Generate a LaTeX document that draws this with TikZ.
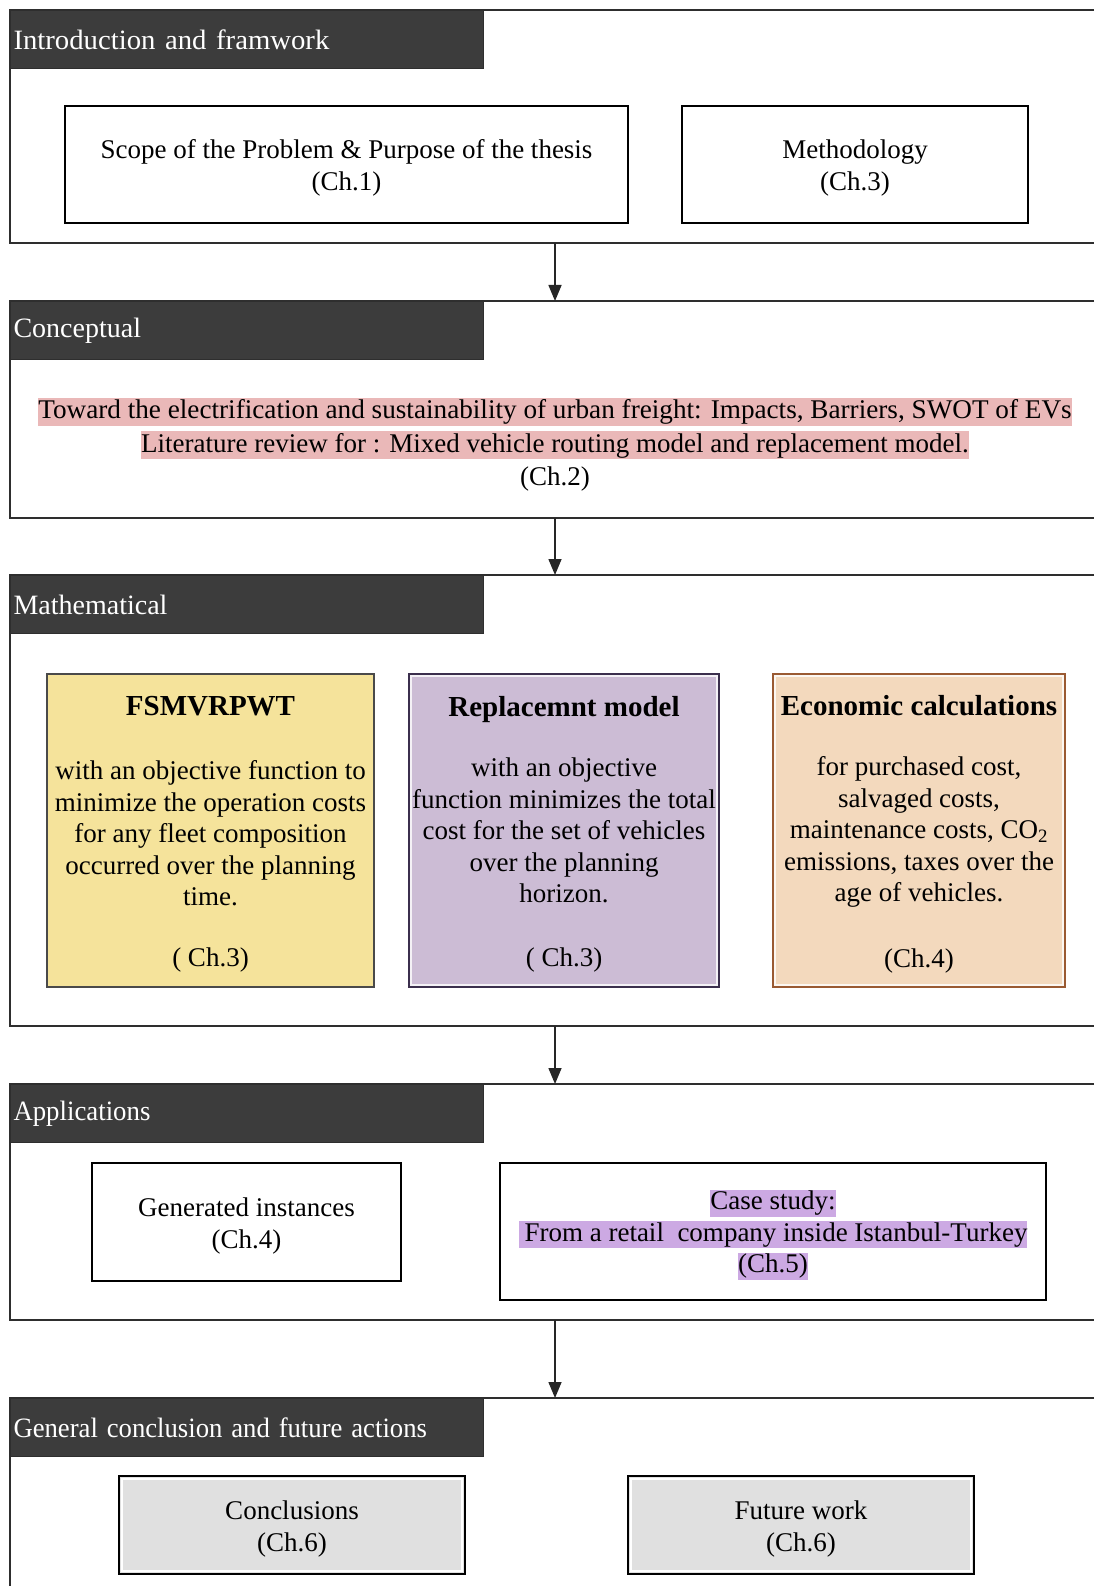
\documentclass[tikz,border=0pt]{standalone}
\usepackage{fontspec}
\setmainfont{Liberation Serif}
\usetikzlibrary{arrows.meta}
\definecolor{hdrc}{HTML}{3C3C3C}
\definecolor{framec}{HTML}{2E2E2E}
\definecolor{yelfill}{HTML}{F5E39B}
\definecolor{yelline}{HTML}{4A4A4A}
\definecolor{purfill}{HTML}{CCBCD5}
\definecolor{purline}{HTML}{3B2F4D}
\definecolor{peafill}{HTML}{F3D9BD}
\definecolor{pealine}{HTML}{9A5A32}
\definecolor{grayfill}{HTML}{E0E0E0}
\definecolor{pinkhl}{HTML}{EAB8B8}
\definecolor{purhl}{HTML}{CCA9E3}
\newcommand\hlpk[1]{{\setlength\fboxsep{0pt}\colorbox{pinkhl}{\rule[-7pt]{0pt}{28pt}#1}}}
\newcommand\hlpu[1]{{\setlength\fboxsep{0pt}\colorbox{purhl}{\rule[-7pt]{0pt}{27pt}#1}}}
\tikzset{
  frameline/.style={draw=framec, line width=1.6pt},
  hdr/.style={fill=hdrc, draw=framec, line width=1pt, text=white, anchor=north west,
    minimum width=473pt, minimum height=58pt, text width=467pt, align=left,
    inner xsep=3pt, inner ysep=0pt, font=\fontsize{28}{32}\selectfont},
  wbox/.style={draw=black, line width=1.6pt, inner sep=0pt},
  cbox/.style={line width=1.6pt, inner sep=0pt},
  gbox/.style={draw=black, fill=grayfill, line width=1.8pt, inner sep=0pt},
  btext/.style={inner sep=0pt, align=center, font=\fontsize{27}{32}\selectfont},
  ctext/.style={inner sep=0pt, align=center, font=\fontsize{27}{31.5}\selectfont},
  arr/.style={draw=black!85, line width=1.5pt, -{Triangle[length=16pt,width=13pt]}},
  inset/.style={draw=white, line width=1.5pt, opacity=0.8}
}
\newcommand\ttl[1]{{\bfseries\fontsize{29}{32}\selectfont #1}}
\begin{document}
\begin{tikzpicture}[x=1pt,y=-1pt]
\useasboundingbox (0,0) rectangle (1094,1586);
\fill[white] (0,0) rectangle (1094,1586);

% ---------- Section 1 ----------
\draw[frameline] (1094,10) -- (10,10) -- (10,243) -- (1094,243);
\node[hdr] (h1) at (10,10) {\scalebox{1.026}[1]{Introduction and framwork}};
\node[wbox, minimum width=563pt, minimum height=117pt] (scope) at (346.5,164.5) {};
\node[btext] (scopet) at ([yshift=-3.5pt]scope.center)
  {Scope of the Problem \& Purpose of the thesis\\(Ch.1)};
\node[wbox, minimum width=346pt, minimum height=117pt] (meth) at (855,164.5) {};
\node[btext] (metht) at ([yshift=-3.5pt]meth.center) {Methodology\\(Ch.3)};

% ---------- Section 2 ----------
\draw[frameline] (1094,301) -- (10,301) -- (10,518) -- (1094,518);
\node[hdr] (h2) at (10,301) {Conceptual};
\node[inner sep=0pt, align=center, font=\fontsize{27}{33.5}\selectfont] (concept) at (555,444.5)
  {\hlpk{\scalebox{1.007}[1]{Toward the electrification and sustainability of urban freight: Impacts, Barriers, SWOT of EVs}}\\
   \hlpk{Literature review for : Mixed vehicle routing model and replacement model.}\\
   (Ch.2)};

% ---------- Section 3 ----------
\draw[frameline] (1094,575) -- (10,575) -- (10,1026) -- (1094,1026);
\node[hdr] (h3) at (10,575) {Mathematical};
\node[cbox, draw=yelline, fill=yelfill, minimum width=327pt, minimum height=313pt] (fsm) at (210.5,830.5) {};
\node[ctext] (fsmt) at ([yshift=-4pt]fsm.center)
  {\ttl{FSMVRPWT}\\[32.5pt]
   with an objective function to\\
   minimize the operation costs\\
   for any fleet composition\\
   occurred over the planning\\
   time.\\[29.5pt]
   ( Ch.3)};
\node[cbox, draw=purline, fill=purfill, minimum width=310pt, minimum height=313pt] (rep) at (564,830.5) {};
\node[ctext] (rept) at ([yshift=-4pt]rep.center)
  {\ttl{Replacemnt model}\\[28.5pt]
   with an objective\\
   function minimizes the total\\
   cost for the set of vehicles\\
   over the planning\\
   horizon.\\[32pt]
   ( Ch.3)};
\node[cbox, draw=pealine, fill=peafill, minimum width=292pt, minimum height=313pt] (eco) at (919,830.5) {};
\node[ctext] (ecot) at ([yshift=-4pt]eco.center)
  {\ttl{Economic calculations}\\[28.5pt]
   for purchased cost,\\
   salvaged costs,\\
   maintenance costs, CO\textsubscript{2}\\
   emissions, taxes over the\\
   age of vehicles.\\[34pt]
   (Ch.4)};
\foreach \b in {rep,eco}{
  \draw[inset] ([shift={(3,3)}]\b.north west) rectangle ([shift={(-3,-3)}]\b.south east);
}

% ---------- Section 4 ----------
\draw[frameline] (1094,1084) -- (10,1084) -- (10,1320) -- (1094,1320);
\node[hdr] (h4) at (10,1084) {\scalebox{0.957}[1]{Applications}};
\node[wbox, minimum width=309pt, minimum height=118pt] (gen) at (246.5,1222) {};
\node[btext] (gent) at ([yshift=-3.5pt]gen.center) {Generated instances\\(Ch.4)};
\node[wbox, minimum width=546pt, minimum height=137pt] (case) at (773,1231.5) {};
\node[ctext] (caset) at ([yshift=-3pt]case.center)
  {\hlpu{Case study:}\\
   \hlpu{\hspace{6pt}From a retail\ \ company inside Istanbul-Turkey}\\
   \hlpu{(Ch.5)}};

% ---------- Section 5 ----------
\draw[frameline] (1094,1398) -- (10,1398) -- (10,1586);
\node[hdr] (h5) at (10,1398) {\scalebox{0.953}[1]{General conclusion and future actions}};
\node[gbox, minimum width=346pt, minimum height=98pt] (concl) at (292,1525) {};
\node[gbox, minimum width=346pt, minimum height=98pt] (fut) at (801,1525) {};
\foreach \b in {concl,fut}{
  \draw[draw=white, line width=2pt] ([shift={(3.5,3.5)}]\b.north west) rectangle ([shift={(-3.5,-3.5)}]\b.south east);
}
\node[btext] (conclt) at ([yshift=-4pt]concl.center) {Conclusions\\(Ch.6)};
\node[btext] (futt) at ([yshift=-4pt]fut.center) {Future work\\(Ch.6)};

% ---------- Arrows ----------
\coordinate (a1s) at (555,243);  \coordinate (a1e) at (555,301);
\coordinate (a2s) at (555,518);  \coordinate (a2e) at (555,575);
\coordinate (a3s) at (555,1026); \coordinate (a3e) at (555,1084);
\coordinate (a4s) at (555,1320); \coordinate (a4e) at (555,1398);
\draw[arr] (a1s) -- (a1e);
\draw[arr] (a2s) -- (a2e);
\draw[arr] (a3s) -- (a3e);
\draw[arr] (a4s) -- (a4e);
\end{tikzpicture}
\end{document}
